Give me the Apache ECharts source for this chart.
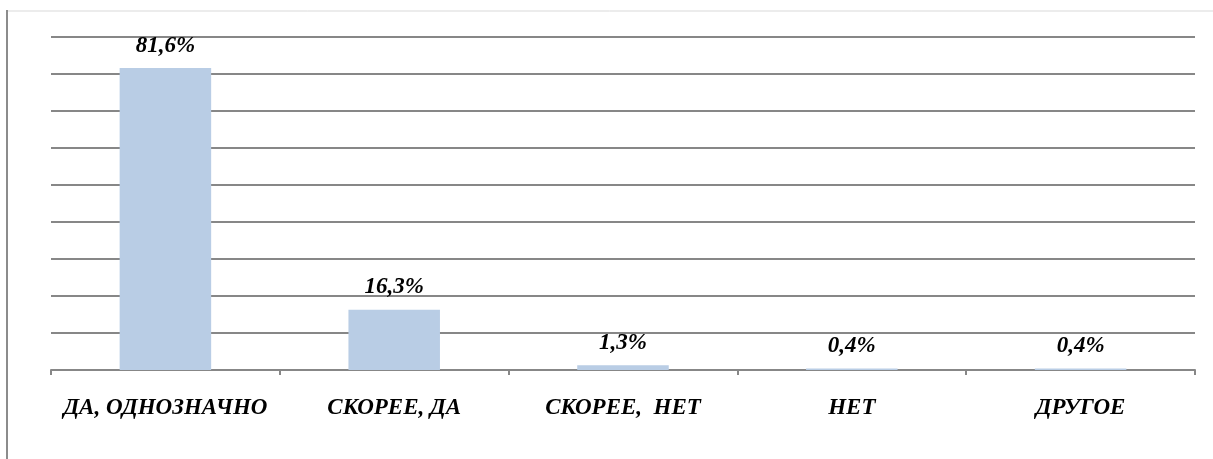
<!DOCTYPE html>
<html>
<head>
<meta charset="utf-8">
<script src="https://cdn.jsdelivr.net/npm/echarts@6/dist/echarts.min.js"></script>
<style>
  html, body { margin: 0; padding: 0; background: #fff; }
  #chart { width: 1213px; height: 459px; }
</style>
</head>
<body>
<div id="chart"></div>
<script>
// data
var categories = ['ДА, ОДНОЗНАЧНО', 'СКОРЕЕ, ДА', 'СКОРЕЕ,  НЕТ', 'НЕТ', 'ДРУГОЕ'];
var values = [81.6, 16.3, 1.3, 0.4, 0.4];
var valueLabels = ['81,6%', '16,3%', '1,3%', '0,4%', '0,4%'];

var font = '"Liberation Serif", "Times New Roman", serif';
var myChart = echarts.init(document.getElementById('chart'));

var option = {
  animation: false,
  grid: { left: 51, right: 18, top: 37, bottom: 89 },
  graphic: [
    // frame of the original chart area
    { type: 'line', shape: { x1: 6, y1: 11, x2: 1213, y2: 11 }, style: { stroke: '#d9d9d9', lineWidth: 1 } },
    { type: 'line', shape: { x1: 7, y1: 10, x2: 7, y2: 459 }, style: { stroke: '#8c8c8c', lineWidth: 2 } }
  ],
  xAxis: {
    type: 'category',
    data: categories,
    axisLine: { lineStyle: { color: '#878787', width: 2 } },
    axisTick: { show: true, interval: 0, length: 5, lineStyle: { color: '#878787', width: 2 } },
    axisLabel: {
      interval: 0,
      hideOverlap: false,
      margin: 27,
      fontFamily: font,
      fontStyle: 'italic',
      fontWeight: 'bold',
      fontSize: 23,
      color: '#000'
    }
  },
  yAxis: {
    type: 'value',
    min: 0,
    max: 90,
    interval: 10,
    axisLabel: { show: false },
    axisLine: { show: false },
    axisTick: { show: false },
    splitLine: { lineStyle: { color: '#878787', width: 2 } }
  },
  series: [{
    type: 'bar',
    data: values,
    barWidth: '40%',
    itemStyle: { color: '#b9cde5' },
    label: {
      show: true,
      position: 'top',
      distance: 11,
      fontFamily: font,
      fontStyle: 'italic',
      fontWeight: 'bold',
      fontSize: 23,
      color: '#000',
      formatter: function (p) { return valueLabels[p.dataIndex]; }
    }
  }]
};
myChart.setOption(option);
</script>
</body>
</html>
